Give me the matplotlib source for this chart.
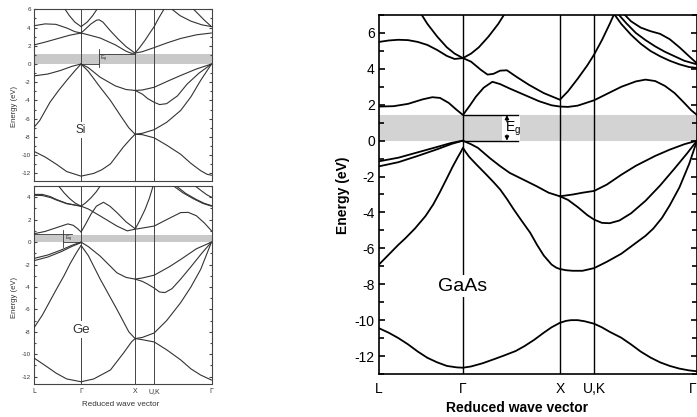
import matplotlib
matplotlib.use('Agg')
import matplotlib.pyplot as plt
from matplotlib.ticker import MultipleLocator

plt.rcParams['font.family'] = ['Liberation Sans', 'DejaVu Sans']
plt.rcParams['axes.unicode_minus'] = False
plt.rcParams['mathtext.fontset'] = 'custom'
plt.rcParams['mathtext.rm'] = 'Liberation Sans'

# symmetry points along L - Gamma - X - U,K - Gamma (reduced wave vector)
K_SYM = [0.0, 0.866, 1.866, 2.220, 3.281]
K_LABELS = ['L', 'Γ', 'X', 'U,K', 'Γ']

# ---- Si: bands as (k, E in eV) points ----
si_valence = [
    [(0, -1.3), (0.25, -1.1), (0.48, -0.72), (0.7, -0.25), (0.866, 0)],
    [(0, -6.9), (0.1, -6.2), (0.29, -4.2), (0.45, -2.9), (0.6, -1.8), (0.75, -0.75), (0.866, 0)],
    [(0.866, 0), (1.0, -0.4), (1.22, -1.45), (1.5, -2.4), (1.7, -2.8), (1.866, -2.9),
     (2.0, -2.85), (2.22, -2.55), (2.5, -1.8), (2.71, -1.26), (3.0, -0.55), (3.281, 0)],
    [(1.866, -2.9), (2.0, -3.3), (2.1, -3.8), (2.22, -4.2), (2.32, -4.45), (2.45, -4.35),
     (2.65, -3.5), (2.83, -2.2), (3.05, -1.0), (3.281, 0)],
    [(0.866, 0), (1.0, -0.8), (1.2, -2.4), (1.41, -4.0), (1.6, -5.7), (1.75, -7.0), (1.866, -7.7),
     (2.0, -7.6), (2.22, -7.2), (2.45, -6.4), (2.71, -5.1), (2.9, -3.6), (3.08, -1.8), (3.281, 0)],
    [(0, -9.6), (0.2, -10.2), (0.41, -11.0), (0.6, -11.8), (0.866, -12.3), (1.1, -12.0),
     (1.25, -11.6), (1.41, -10.96), (1.65, -9.1), (1.8, -8.1), (1.866, -7.7), (2.0, -7.75),
     (2.22, -8.1), (2.45, -8.9), (2.71, -9.9), (2.9, -10.9), (3.08, -11.7), (3.2, -12.1), (3.281, -12.2)],
]
si_conduction = [
    [(0, 2.1), (0.2, 2.4), (0.41, 2.75), (0.65, 3.15), (0.866, 3.4)],
    [(0, 4.2), (0.2, 4.4), (0.4, 4.35), (0.6, 3.95), (0.75, 3.55), (0.866, 3.4)],
    [(0.866, 3.4), (1.0, 3.2), (1.22, 2.85), (1.5, 2.1), (1.7, 1.4), (1.8, 1.17), (1.866, 1.2),
     (2.0, 1.35), (2.22, 1.8), (2.45, 2.3), (2.71, 2.8), (3.0, 3.2), (3.281, 3.4)],
    [(0.57, 6.0), (0.65, 5.3), (0.75, 4.6), (0.866, 4.1), (0.98, 4.6), (1.08, 5.3), (1.16, 6.0)],
    [(0.866, 3.4), (0.95, 3.85), (1.05, 4.4), (1.15, 4.8), (1.2, 4.85), (1.27, 4.6), (1.4, 3.7),
     (1.55, 2.75), (1.7, 1.9), (1.866, 1.2)],
    [(1.866, 1.2), (1.95, 1.8), (2.05, 2.6), (2.15, 3.5), (2.22, 4.1), (2.3, 5.0), (2.4, 6.0)],
    [(2.55, 6.0), (2.7, 5.3), (2.9, 4.7), (3.1, 4.3), (3.281, 4.1)],
    [(2.95, 6.0), (3.05, 5.4), (3.15, 4.8), (3.281, 4.1)],
]
si_gap = 1.15

# ---- Ge ----
ge_valence = [
    [(0, -1.45), (0.25, -1.15), (0.5, -0.7), (0.7, -0.28), (0.866, 0)],
    [(0, -1.65), (0.25, -1.33), (0.5, -0.85), (0.7, -0.38), (0.866, -0.05)],
    [(0, -7.6), (0.15, -6.5), (0.41, -4.2), (0.55, -3.0), (0.66, -1.95), (0.78, -0.95), (0.866, -0.3)],
    [(0.866, 0), (1.0, -0.4), (1.22, -1.25), (1.53, -2.74), (1.7, -3.15), (1.866, -3.3),
     (2.0, -3.2), (2.22, -2.95), (2.5, -2.2), (2.71, -1.55), (3.0, -0.6), (3.281, 0)],
    [(1.866, -3.3), (2.0, -3.5), (2.1, -3.75), (2.22, -4.1), (2.32, -4.45), (2.42, -4.5),
     (2.55, -4.15), (2.71, -3.3), (2.9, -2.2), (3.1, -1.0), (3.281, 0)],
    [(0.866, -0.3), (1.0, -1.2), (1.22, -3.3), (1.53, -6.0), (1.75, -8.0), (1.866, -8.6),
     (2.0, -8.5), (2.22, -8.1), (2.45, -7.0), (2.71, -5.4), (2.9, -4.0), (3.08, -2.44), (3.281, 0)],
    [(0, -10.35), (0.2, -11.0), (0.41, -11.7), (0.6, -12.2), (0.866, -12.45), (1.1, -12.2),
     (1.41, -11.4), (1.65, -9.9), (1.8, -8.9), (1.866, -8.6), (2.0, -8.7), (2.22, -8.9),
     (2.45, -9.6), (2.71, -10.5), (2.9, -11.3), (3.08, -11.85), (3.281, -12.3)],
]
ge_conduction = [
    [(0, 0.75), (0.2, 0.95), (0.45, 1.35), (0.62, 1.62), (0.72, 1.5), (0.8, 1.2), (0.866, 0.9)],
    [(0.866, 0.9), (0.95, 1.6), (1.05, 2.5), (1.15, 3.2), (1.28, 3.55), (1.4, 3.2), (1.53, 2.63),
     (1.7, 1.8), (1.866, 1.2)],
    [(0.866, 3.2), (1.0, 2.95), (1.22, 2.33), (1.53, 1.43), (1.72, 1.0), (1.866, 1.15),
     (2.0, 1.25), (2.22, 1.43), (2.45, 2.0), (2.71, 2.63), (2.85, 2.65), (3.0, 2.35),
     (3.15, 1.7), (3.281, 1.0)],
    [(1.866, 1.15), (1.95, 1.9), (2.05, 2.9), (2.13, 3.9), (2.2, 5.0)],
    [(0, 4.25), (0.15, 4.25), (0.3, 4.05), (0.41, 3.8), (0.6, 3.45), (0.866, 3.2)],
    [(0, 4.17), (0.15, 4.15), (0.3, 3.97), (0.41, 3.75), (0.6, 3.42), (0.866, 3.2)],
    [(0.45, 5.0), (0.55, 4.4), (0.65, 3.9), (0.75, 3.5), (0.866, 3.2), (0.95, 3.5), (1.05, 3.95),
     (1.15, 4.5), (1.22, 5.0)],
    [(2.58, 5.0), (2.75, 4.4), (2.95, 3.85), (3.12, 3.45), (3.281, 3.2)],
    [(2.63, 5.0), (2.8, 4.35), (3.0, 3.8), (3.15, 3.45), (3.281, 3.25)],
    [(2.98, 5.0), (3.1, 4.55), (3.2, 4.2), (3.281, 4.0)],
]
ge_gap = 0.72

# ---- GaAs ----
gaas_valence = [
    [(0, -1.15), (0.2, -0.95), (0.4, -0.65), (0.6, -0.35), (0.75, -0.12), (0.866, 0),
     (0.95, -0.2), (1.02, -0.4), (1.15, -1.0), (1.25, -1.42), (1.35, -1.8), (1.5, -2.2),
     (1.63, -2.55), (1.75, -2.9), (1.866, -3.1)],
    [(0, -1.43), (0.2, -1.2), (0.4, -0.85), (0.6, -0.48), (0.75, -0.18), (0.866, 0)],
    [(0, -6.9), (0.1, -6.35), (0.2, -5.8), (0.27, -5.45), (0.37, -4.9), (0.48, -4.2),
     (0.56, -3.55), (0.63, -2.85), (0.7, -2.1), (0.76, -1.45), (0.81, -0.95), (0.845, -0.62),
     (0.866, -0.4), (0.89, -0.6), (0.93, -0.9), (1.0, -1.3), (1.1, -1.85), (1.18, -2.3),
     (1.25, -2.72), (1.32, -3.25), (1.39, -3.83), (1.47, -4.45), (1.56, -5.13), (1.63, -5.8),
     (1.7, -6.4), (1.78, -6.9), (1.83, -7.08), (1.866, -7.15), (1.93, -7.22), (2.0, -7.25),
     (2.1, -7.25), (2.22, -7.1), (2.35, -6.75), (2.5, -6.3), (2.65, -5.7), (2.75, -5.3),
     (2.83, -4.9), (2.92, -4.3), (3.0, -3.6), (3.1, -2.6), (3.2, -1.3), (3.281, 0)],
    [(1.866, -3.1), (2.0, -3.0), (2.1, -2.9), (2.22, -2.8), (2.35, -2.45), (2.5, -1.9),
     (2.65, -1.4), (2.85, -0.85), (3.0, -0.5), (3.15, -0.2), (3.281, 0)],
    [(1.866, -3.1), (1.95, -3.3), (2.05, -3.7), (2.15, -4.15), (2.22, -4.4), (2.3, -4.58),
     (2.38, -4.6), (2.48, -4.45), (2.6, -4.05), (2.75, -3.35), (2.9, -2.5), (3.05, -1.55),
     (3.18, -0.7), (3.281, 0)],
    [(0, -10.45), (0.1, -10.7), (0.2, -11.0), (0.3, -11.35), (0.4, -11.75), (0.5, -12.1),
     (0.6, -12.35), (0.7, -12.55), (0.8, -12.63), (0.866, -12.65), (0.95, -12.58), (1.07, -12.4),
     (1.2, -12.15), (1.3, -11.95), (1.41, -11.72), (1.5, -11.45), (1.6, -11.1), (1.7, -10.7),
     (1.78, -10.4), (1.866, -10.15), (1.93, -10.04), (1.98, -10.0), (2.05, -10.0), (2.12, -10.06),
     (2.22, -10.2), (2.3, -10.4), (2.38, -10.65), (2.5, -10.98), (2.6, -11.35), (2.7, -11.75),
     (2.8, -12.08), (2.9, -12.35), (3.0, -12.55), (3.1, -12.7), (3.2, -12.8), (3.281, -12.85)],
]
gaas_conduction = [
    [(0, 1.9), (0.15, 1.92), (0.3, 2.05), (0.45, 2.3), (0.55, 2.42), (0.63, 2.38), (0.72, 2.1),
     (0.8, 1.72), (0.866, 1.43), (0.93, 1.9), (1.0, 2.45), (1.08, 2.95), (1.17, 3.28),
     (1.25, 3.15), (1.35, 2.9), (1.5, 2.55), (1.65, 2.2), (1.78, 1.97), (1.866, 1.9),
     (1.95, 1.88), (2.05, 1.95), (2.22, 2.25), (2.35, 2.6), (2.5, 3.0), (2.65, 3.3), (2.75, 3.4),
     (2.85, 3.32), (2.95, 3.05), (3.05, 2.65), (3.15, 2.1), (3.22, 1.7), (3.281, 1.43)],
    [(0.866, 4.6), (0.95, 4.4), (1.05, 3.95), (1.12, 3.68), (1.18, 3.72), (1.25, 3.9),
     (1.32, 3.92), (1.42, 3.55), (1.55, 3.1), (1.7, 2.65), (1.866, 2.28), (1.95, 2.75),
     (2.05, 3.45), (2.15, 4.2), (2.22, 4.8), (2.3, 5.6), (2.38, 6.5), (2.43, 7.1)],
    [(0, 5.5), (0.1, 5.58), (0.2, 5.62), (0.3, 5.6), (0.4, 5.5), (0.5, 5.33), (0.6, 5.05),
     (0.7, 4.72), (0.78, 4.55), (0.866, 4.6)],
    [(0.43, 7.1), (0.5, 6.5), (0.6, 5.8), (0.7, 5.2), (0.78, 4.85), (0.866, 4.6), (0.95, 4.85),
     (1.03, 5.2), (1.13, 5.8), (1.23, 6.5), (1.3, 7.1)],
    [(2.42, 7.1), (2.5, 6.5), (2.6, 5.9), (2.7, 5.4), (2.8, 5.0), (2.9, 4.7), (3.0, 4.45),
     (3.1, 4.25), (3.2, 4.1), (3.281, 4.05)],
    [(2.46, 7.1), (2.55, 6.55), (2.65, 6.0), (2.75, 5.6), (2.85, 5.25), (2.95, 4.95), (3.05, 4.7),
     (3.15, 4.45), (3.281, 4.25)],
    [(2.52, 7.1), (2.6, 6.65), (2.7, 6.3), (2.8, 6.1), (2.9, 5.95), (3.0, 5.65), (3.1, 5.2),
     (3.2, 4.7), (3.281, 4.3)],
]
gaas_gap = 1.43

W, H = 697, 417


def draw_bands(ax, bands, lw, color):
    for band in bands:
        k = [p[0] for p in band]
        e = [p[1] for p in band]
        ax.plot(k, e, color=color, lw=lw, solid_joinstyle='round', solid_capstyle='round', zorder=3)


def setup_panel(ax, ylim, frame_lw, frame_col, tick_fs, maj_len, min_len, ypad, vline_lw):
    ax.set_xlim(K_SYM[0], K_SYM[-1])
    ax.set_ylim(*ylim)
    ax.yaxis.set_major_locator(MultipleLocator(2))
    ax.yaxis.set_minor_locator(MultipleLocator(1))
    ax.tick_params(axis='y', which='both', direction='in', left=True, right=True,
                   labelsize=tick_fs, pad=ypad, color=frame_col, width=frame_lw)
    ax.tick_params(axis='y', which='major', length=maj_len)
    ax.tick_params(axis='y', which='minor', length=min_len)
    ax.set_xticks(K_SYM)
    ax.set_xticklabels(K_LABELS)
    ax.tick_params(axis='x', length=0)
    for s in ax.spines.values():
        s.set_linewidth(frame_lw)
        s.set_color(frame_col)
    for k in K_SYM[1:-1]:
        ax.axvline(k, color=frame_col, lw=vline_lw, zorder=2)


fig = plt.figure(figsize=(W / 100, H / 100), dpi=100)

ax_si = fig.add_axes([34.3 / W, 1 - 180.7 / H, 177.2 / W, 171.4 / H])
ax_ge = fig.add_axes([34.3 / W, 1 - 384 / H, 177.2 / W, 198 / H])
ax_ga = fig.add_axes([379 / W, 1 - 374 / H, 318 / W, 359 / H])

left_col = '#333333'

# ---- Si panel ----
setup_panel(ax_si, (-12.8, 6), 0.8, '#444444', 4.5, 2.2, 1.4, 2.5, 0.7)
ax_si.tick_params(axis='x', labelbottom=False)
ax_si.tick_params(axis='y', labelcolor=left_col)
ax_si.axhspan(0, si_gap, color='#c9c9c9', lw=0, zorder=1)
draw_bands(ax_si, si_valence, 0.8, left_col)
draw_bands(ax_si, si_conduction, 0.8, left_col)
ax_si.plot([1.19, 1.866], [si_gap, si_gap], color=left_col, lw=0.6, zorder=3)
ax_si.plot([0.866, 1.19], [0, 0], color=left_col, lw=0.6, zorder=3)
ax_si.plot([1.19, 1.19], [-0.3, si_gap + 0.5], color=left_col, lw=0.6, zorder=3)
ax_si.text(1.22, si_gap / 2, 'E$_\\mathrm{g}$', fontsize=4, ha='left', va='center', color=left_col)
ax_si.text(0.866, -7.2, 'Si', fontsize=8.5, ha='center', va='center', color=left_col,
           bbox=dict(fc='white', ec='none', pad=1.5), zorder=4)

# ---- Ge panel ----
setup_panel(ax_ge, (-12.65, 5.0), 0.8, '#444444', 4.5, 2.2, 1.4, 2.5, 0.7)
ax_ge.tick_params(axis='both', labelcolor=left_col)
ax_ge.tick_params(axis='x', labelsize=5, pad=3)
ax_ge.axhspan(0, 0.62, color='#c9c9c9', lw=0, zorder=1)
draw_bands(ax_ge, ge_valence, 0.8, left_col)
draw_bands(ax_ge, ge_conduction, 0.8, left_col)
ax_ge.plot([0, 0.7], [ge_gap, ge_gap], color=left_col, lw=0.6, zorder=3)
ax_ge.plot([0.54, 0.866], [0, 0], color=left_col, lw=0.6, zorder=3)
ax_ge.plot([0.54, 0.54], [-0.4, ge_gap + 0.4], color=left_col, lw=0.6, zorder=3)
ax_ge.text(0.57, 0.32, 'E$_\\mathrm{g}$', fontsize=4, ha='left', va='center', color=left_col)
ax_ge.text(0.866, -7.8, 'Ge', fontsize=9.5, ha='center', va='center', color=left_col,
           bbox=dict(fc='white', ec='none', pad=1.5), zorder=4)

# ---- GaAs panel ----
setup_panel(ax_ga, (-13, 7), 1.2, 'black', 10, 4.3, 3.3, 3, 1.0)
ax_ga.tick_params(axis='x', labelsize=10, pad=6)
ax_ga.get_xticklabels()[-1].set_horizontalalignment('right')
ax_ga.fill_between([0, 1.27], 0, gaas_gap, color='#d3d3d3', lw=0, zorder=1)
ax_ga.fill_between([1.455, K_SYM[-1]], 0, gaas_gap, color='#d3d3d3', lw=0, zorder=1)
draw_bands(ax_ga, gaas_valence, 1.3, 'black')
draw_bands(ax_ga, gaas_conduction, 1.3, 'black')
ax_ga.plot([0.866, 1.43], [gaas_gap, gaas_gap], color='black', lw=1.0, zorder=3)
ax_ga.plot([0.866, 1.43], [0, 0], color='black', lw=1.0, zorder=3)
arrow = dict(arrowstyle='-|>', lw=0.9, color='black', mutation_scale=6, shrinkA=0, shrinkB=0)
ax_ga.annotate('', xy=(1.32, gaas_gap), xytext=(1.32, 1.05), arrowprops=arrow)
ax_ga.annotate('', xy=(1.32, 0), xytext=(1.32, 0.32), arrowprops=arrow)
ax_ga.text(1.30, 0.68, 'E$_\\mathrm{g}$', fontsize=10, ha='left', va='center', zorder=4)
ax_ga.text(0.866, -8.1, 'GaAs', fontsize=14, ha='center', va='center',
           bbox=dict(fc='white', ec='none', pad=1.5), zorder=4)

# axis titles placed like the scanned original
fig.text(15 / W, 1 - 106.7 / H, 'Energy (eV)', rotation=90, fontsize=5.5, ha='center', va='center',
         color=left_col)
fig.text(15 / W, 1 - 298 / H, 'Energy (eV)', rotation=90, fontsize=5.5, ha='center', va='center',
         color=left_col)
fig.text(120.5 / W, 1 - 404 / H, 'Reduced wave vector', fontsize=5.8, ha='center', va='center',
         color=left_col)
fig.text(343 / W, 1 - 195 / H, 'Energy (eV)', rotation=90, fontsize=10, fontweight='bold',
         ha='center', va='center')
fig.text(517 / W, 1 - 408 / H, 'Reduced wave vector', fontsize=10, fontweight='bold',
         ha='center', va='center')

fig.savefig('out.png', dpi=100)
